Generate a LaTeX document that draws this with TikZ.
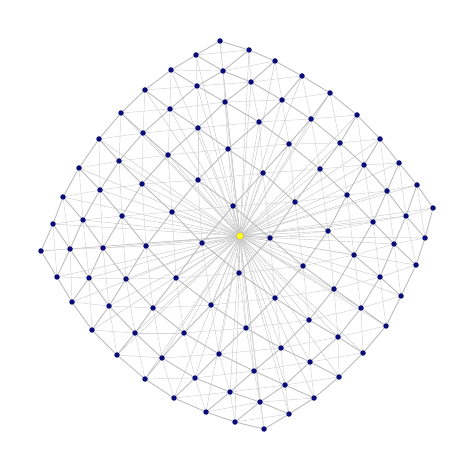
\documentclass[tikz,border=0pt]{standalone}
\usetikzlibrary{backgrounds}
\definecolor{dotblue}{RGB}{12,12,120}
\definecolor{gridgray}{RGB}{188,188,188}
\definecolor{diaggray}{RGB}{212,212,212}
\definecolor{spokegray}{RGB}{196,196,196}
\definecolor{hubyellow}{RGB}{255,255,20}
\tikzset{
  vtx/.style={circle,fill=dotblue,inner sep=0pt,minimum size=5.5pt},
  hubvtx/.style={circle,fill=hubyellow,draw=yellow!60!black,line width=0.3pt,inner sep=0pt,minimum size=7pt},
  gridedge/.style={draw=gridgray,line width=0.9pt},
  diagedge/.style={draw=diaggray,line width=0.5pt},
  spoke/.style={draw=spokegray,line width=0.4pt},
}
\begin{document}
\begin{tikzpicture}[x=1pt,y=-1pt]
\useasboundingbox (0,0) rectangle (474,470);
\foreach \row [count=\i from 0] in {
 {220/41,249/50,275/61,302/76,330/93,357/115,380/139,399/163,417/185,433/208},
 {196/55,223/71,251/82,282/100,311/119,340/143,364/165,387/191,406/216,425/238},
 {171/70,197/86,225/102,259/122,289/144,320/169,347/195,373/222,394/244,416/265},
 {145/90,170/109,198/128,228/149,263/173,295/202,328/231,354/255,380/277,401/296},
 {121/113,143/133,168/155,198/180,233/206,270/238,303/266,334/289,361/308,386/326},
 {99/139,119/161,142/184,172/212,202/243,239/273,275/298,309/320,338/337,363/353},
 {79/168,100/190,122/216,146/246,176/278,211/305,246/328,281/348,310/362,339/377},
 {63/197,83/220,103/248,126/279,153/308,184/333,219/354,254/371,285/385,314/398},
 {53/224,70/249,89/278,109/306,135/333,162/358,195/378,230/392,260/402,289/414},
 {41/251,57/277,72/302,92/330,117/355,145/379,174/398,206/412,235/422,264/429}} {
  \foreach \xx/\yy [count=\j from 0] in \row {
    \node[vtx] (n-\i-\j) at (\xx,\yy) {};
  }
}
\node[hubvtx] (hub) at (240,236) {};
\begin{scope}[on background layer]
  \foreach \i in {0,...,9} {
    \foreach \j in {0,...,9} {
      \draw[spoke] (hub) -- (n-\i-\j);
    }
  }
  \foreach \i in {0,...,8} {
    \foreach \j in {0,...,8} {
      \pgfmathtruncatemacro\ii{\i+1}
      \pgfmathtruncatemacro\jj{\j+1}
      \draw[diagedge] (n-\i-\j) -- (n-\ii-\jj);
      \draw[diagedge] (n-\i-\jj) -- (n-\ii-\j);
    }
  }
  \foreach \i in {0,...,8} {
    \foreach \j in {0,...,9} {
      \pgfmathtruncatemacro\ii{\i+1}
      \draw[gridedge] (n-\i-\j) -- (n-\ii-\j);
      \draw[gridedge] (n-\j-\i) -- (n-\j-\ii);
    }
  }
\end{scope}
\end{tikzpicture}
\end{document}
